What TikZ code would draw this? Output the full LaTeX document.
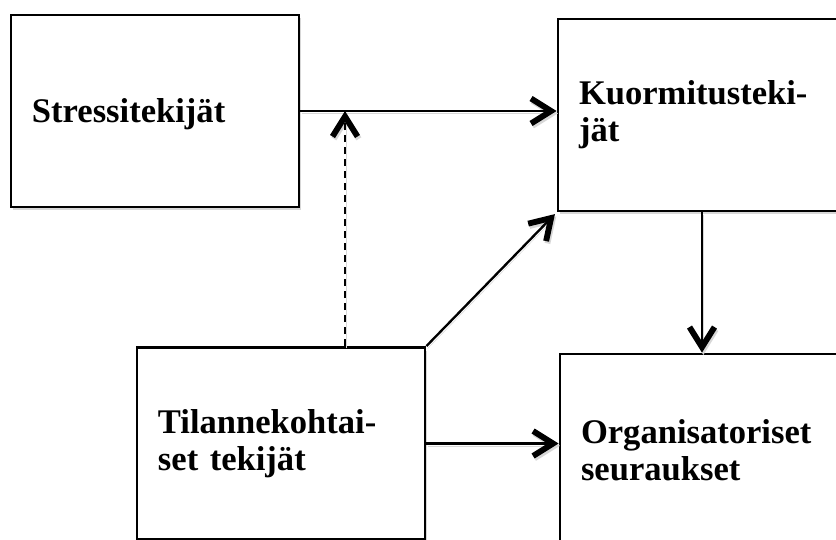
\documentclass[tikz,border=0pt]{standalone}
\usepackage{fontspec}
\setmainfont{Liberation Serif}
\usetikzlibrary{arrows.meta,shadows}
\definecolor{shade}{RGB}{215,215,215}

\begin{document}
\begin{tikzpicture}[x=0.03cm, y=-0.03cm,
  font=\bfseries\fontsize{29.5}{31.5}\selectfont,
  box/.style={rectangle, draw=black, line width=2.4pt, fill=white, align=left,
    text width=7.38cm, inner xsep=0.63cm, inner ysep=0pt, minimum height=5.76cm,
    drop shadow={shadow xshift=0.06cm, shadow yshift=-0.1cm, fill=shade, opacity=1}},
  flow/.style={line width=2pt, -{Straight Barb[length=6mm, width=7.5mm, line width=5pt]},
    preaction={draw=shade, transform canvas={xshift=0.04cm, yshift=-0.07cm}}}]
% geometry: 1 unit = 1px of the 836 x 540 frame, y grows downwards
\clip (0,0) rectangle (836,540);

% ---- the four factor boxes ----
\node[box] (stress) at (155,111) {\raisebox{-10pt}[0pt][0pt]{Stressitekijät}};
\node[box] (kuorm) at (702,115) {Kuormitusteki-\\jät};
\node[box] (tilanne) at (281,443.5) {Tilannekohtai-\\set tekijät};
\node[box] (org) at (704,450) {Organisatoriset\\seuraukset};

% ---- connectors ----
\coordinate (hit) at (345,111);
\draw[flow] (stress.east) -- (stress.east -| kuorm.west);
\draw[flow, dash pattern=on 0.22cm off 0.14cm] (tilanne.north -| hit) -- (hit);
\draw[flow, shorten >=2pt] (tilanne.north east) -- (kuorm.south west);
\draw[flow] (kuorm.south) -- (kuorm.south |- org.north);
\draw[flow] (tilanne.east) -- (tilanne.east -| org.west);
\end{tikzpicture}
\end{document}
